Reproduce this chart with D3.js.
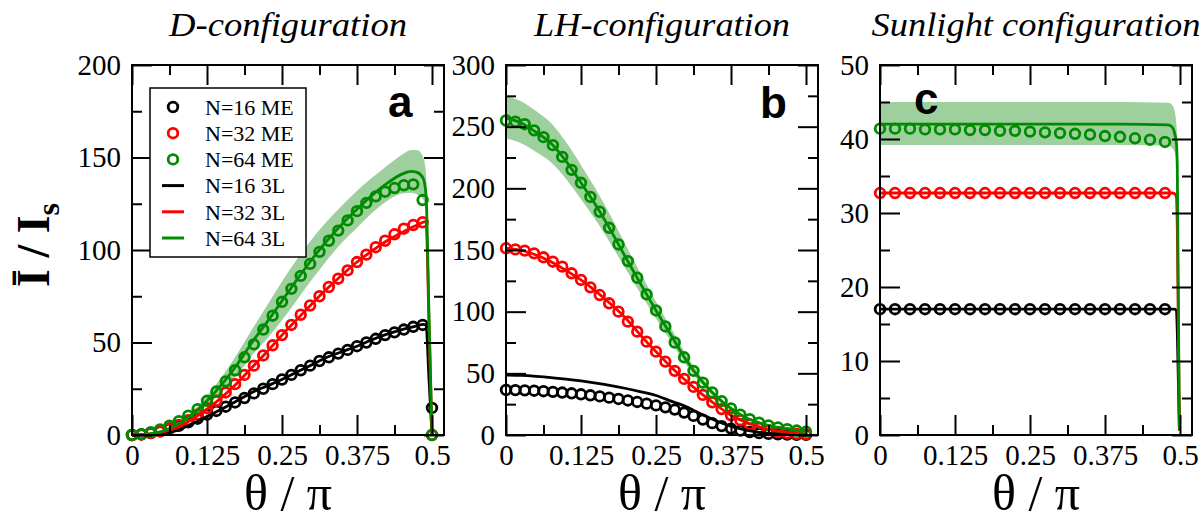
<!DOCTYPE html>
<html>
<head>
<meta charset="utf-8">
<script src="https://cdn.jsdelivr.net/npm/d3@7"></script>
<style>body{margin:0;background:#fff}</style>
</head>
<body>
<script>
// intensity vs angle, three illumination configurations (ME circles, 3L lines, 3L uncertainty band)

var thetaME = [0,0.015625,0.03125,0.046875,0.0625,0.078125,0.09375,0.109375,0.125,0.140625,0.15625,0.171875,0.1875,0.203125,0.21875,0.234375,0.25,0.265625,0.28125,0.296875,0.3125,0.328125,0.34375,0.359375,0.375,0.390625,0.40625,0.421875,0.4375,0.453125,0.46875,0.484375,0.5];

// panel a: D-configuration
var aME16 = [0,0.3,1,2,3.5,5,6.8,8.8,11,13,15.3,17.6,20,22.5,25,27.5,30,32.5,35,37.5,40,42,44,46,48,50,52,54,55.5,57,58.5,59.5,14.6];
var aME32 = [0,0.3,1,2,3.5,5.5,8,11,14.5,18.5,23,27.5,32.5,37.5,43,48.5,54,59.5,65,70,75,80,84.5,89,93.5,97.5,101.5,105,108.5,111.5,113.5,115,0];
var aME64 = [0,0.5,1.5,3,5,7.5,10.5,14,18.5,23.5,29,35,42,49,57,64.5,72,79,86,92.5,99,105,110.5,116,121,125.5,129,131.5,133.5,135,135.5,127,0];
var thetaLineA = [0,0.025,0.05,0.075,0.1,0.125,0.15,0.175,0.2,0.225,0.25,0.275,0.3,0.325,0.35,0.375,0.4,0.425,0.45,0.465,0.475,0.485,0.49,0.495,0.5];
var a3L16 = [0,0.1,0.8,2.5,6,10,14,18.5,23,26.5,30,34,38,42,45,48,51.5,54.5,57,58.2,59,59.8,59.5,30,0];
var a3L32 = [0,0.3,1.5,4,8.5,14,20.5,28,36.5,45,54,62.5,71,79,86.5,93.5,99.5,105,109.5,112,113.5,115,115.5,60,0];
var a3L64 = [0,0.4,2,5.5,11,18.5,27.5,38,50,61,72.5,84,95,105,114,122,129.5,136,141,142.5,142,139,130,65,0];
var aBandUp = [0,0.5,2.3,6.3,12.6,21.2,31.6,43.7,57,70,83,95,106,115.5,124,132,139,145.5,151.5,154,154,150.5,141,70,0];
var aBandLo = [0,0.3,1.7,4.7,9.4,15.8,23.4,32.3,43,52,62,73,84,94.5,104,112,120,126.5,130.5,131,130,127.5,119,60,0];

// panel b: LH-configuration
var bME16 = [36.5,36.4,36.2,35.9,35.5,35,34.4,33.8,33,32.2,31.3,30.3,29.2,28,26.8,25.4,24,22.4,20.6,18.2,15.5,12.5,9.6,7.2,5.2,3.6,2.4,1.5,0.9,0.5,0.3,0.2,0.1];
var bME32 = [151.4,150.5,149.5,147.3,144.1,140.5,136.5,131.1,125.7,119.7,113.5,106.8,100,91.9,83.8,75.7,67.6,59.5,52,45.5,39,32.5,26.5,21,16,12,8.5,5.8,3.8,2.4,1.5,0.9,0.5];
var bME64 = [255,254,252,247,241.5,235,225.5,215,204.5,193,181,168,154.5,141,127.5,114,101,88,75,63,52,42.5,34.5,27.5,21.5,16.5,12.8,10,7.8,6.1,4.7,3.6,2.7];
var thetaLineB = [0,0.025,0.05,0.075,0.1,0.125,0.15,0.175,0.2,0.225,0.25,0.275,0.3,0.325,0.35,0.375,0.4,0.425,0.45,0.475,0.5];
var b3L16 = [48.6,48.3,47.6,46.6,45.3,43.8,42,40,37.7,35,32,27.5,23,17,11.5,7,4,2,0.8,0.3,0.1];
var b3L32 = [151.5,149.8,146,140.5,133.5,125.7,116.5,106,94.5,80.5,67.6,55.2,44,33.8,24.5,16,10.3,6.2,3.5,1.9,0.5];
var b3L64 = [257,253,245.5,236.5,222,204.5,186,165.5,143.5,122,101,81,61,44.5,31.5,21.5,14,9.5,6.4,4.3,2.7];
var bBandUp = [275,270.7,262.7,253,237.5,218.8,199,177.1,153.5,130.5,108,86.7,65.3,47.6,33.7,23,15,10.2,6.8,4.6,2.9];
var bBandLo = [240.3,236.6,229.5,221.1,207.6,191.2,173.9,154.7,134.2,114.1,94.4,75.7,57,41.6,29.5,20.1,13.1,8.9,6,4,2.5];

// panel c: Sunlight configuration
var thetaC = [0,0.025,0.05,0.075,0.1,0.125,0.15,0.175,0.2,0.225,0.25,0.275,0.3,0.325,0.35,0.375,0.4,0.425,0.45,0.475];
var cME16 = [17,17,17,17,17,17,17,17,17,17,17,17,17,17,17,17,17,17,17,17];
var cME32 = [32.7,32.7,32.7,32.7,32.7,32.7,32.7,32.7,32.7,32.7,32.7,32.7,32.7,32.7,32.7,32.7,32.7,32.7,32.7,32.7];
var cME64 = [41.4,41.4,41.4,41.3,41.3,41.3,41.2,41.2,41.1,41.1,41.0,40.9,40.8,40.7,40.6,40.4,40.3,40.1,39.9,39.6];
var thetaLineC = [0,0.1,0.2,0.3,0.4,0.48,0.487,0.491,0.494,0.4955,0.499];
var c3L16 = [17,17,17,17,17,17,17,17,16.8,14,0.6];
var c3L32 = [32.7,32.7,32.7,32.7,32.7,32.7,32.7,32.6,32.2,28,0.6];
var c3L64 = [42,42,42,42,42,41.9,41.6,40.8,39.5,36,0.7];
var cBandUp = [45,45,45,45,45,44.9,44.6,43.8,42,38.5,0.75];
var cBandLo = [39.2,39.2,39.2,39.2,39.2,39.1,38.8,38.2,36.6,33.5,0.65];

var xMajor = [0, 0.125, 0.25, 0.375, 0.5],
    xLabels = ['0', '0.125', '0.25', '0.375', '0.5'],
    xMinor = [0.0625, 0.1875, 0.3125, 0.4375];

var legendNames = ['N=16 ME', 'N=32 ME', 'N=64 ME', 'N=16 3L', 'N=32 3L', 'N=64 3L'];

var colors = ['#000000', '#ff0000', '#008c00'],
    bandColor = '#9dd09d',
    serif = '"Liberation Serif", "Times New Roman", serif',
    sans = '"Liberation Sans", Arial, sans-serif';

var panels = [
  { left: 132, ymax: 200, yMajor: [0,50,100,150,200], yMinor: [25,75,125,175],
    title: 'D-configuration', titleW: 238, letter: 'a', lx: 388, ly: 117,
    me: [aME16, aME32, aME64], meX: thetaME,
    lineX: thetaLineA, lines: [a3L16, a3L32, a3L64], up: aBandUp, lo: aBandLo },
  { left: 506, ymax: 300, yMajor: [0,50,100,150,200,250,300], yMinor: [25,75,125,175,225,275],
    title: 'LH-configuration', titleW: 256, letter: 'b', lx: 760, ly: 118,
    me: [bME16, bME32, bME64], meX: thetaME,
    lineX: thetaLineB, lines: [b3L16, b3L32, b3L64], up: bBandUp, lo: bBandLo },
  { left: 880, ymax: 50, yMajor: [0,10,20,30,40,50], yMinor: [5,15,25,35,45],
    title: 'Sunlight configuration', titleW: 329, letter: 'c', lx: 914, ly: 114,
    me: [cME16, cME32, cME64], meX: thetaC,
    lineX: thetaLineC, lines: [c3L16, c3L32, c3L64], up: cBandUp, lo: cBandLo }
];

var plotTop = 65, plotBottom = 435, plotW = 312;
var markR = 4.8, markW = 2.8;

var svg = d3.select('body').append('svg')
    .attr('width', 1202)
    .attr('height', 521)
    .style('display', 'block');

function styleAxis(sel) {
  sel.select('.domain').remove();
  sel.selectAll('line').attr('stroke', '#000').attr('stroke-width', 2);
  sel.attr('font-family', serif).attr('font-size', 29);
  sel.selectAll('text').attr('fill', '#000');
}

panels.forEach(function(p) {
  var g = svg.append('g');
  var x = d3.scaleLinear().domain([0, 0.52]).range([p.left, p.left + plotW]);
  var y = d3.scaleLinear().domain([0, p.ymax]).range([plotBottom, plotTop]);
  var right = p.left + plotW;

  // uncertainty band of N=64 3L
  var area = d3.area()
      .x((d, i) => x(p.lineX[i]))
      .y0((d, i) => y(p.lo[i]))
      .y1((d, i) => y(p.up[i]))
      .curve(d3.curveMonotoneX);
  g.append('path').datum(p.up).attr('d', area).attr('fill', bandColor).attr('stroke', 'none');

  // ME circles
  p.me.forEach(function(vals, k) {
    g.append('g').selectAll('circle')
      .data(vals)
      .enter().append('circle')
        .attr('cx', (d, i) => x(p.meX[i]))
        .attr('cy', d => y(d))
        .attr('r', markR)
        .attr('fill', 'none')
        .attr('stroke', colors[k])
        .attr('stroke-width', markW);
  });

  // 3L lines
  var line = d3.line()
      .x((d, i) => x(p.lineX[i]))
      .y(d => y(d))
      .curve(d3.curveMonotoneX);
  p.lines.forEach(function(vals, k) {
    g.append('path').datum(vals)
      .attr('d', line)
      .attr('fill', 'none')
      .attr('stroke', colors[k])
      .attr('stroke-width', 2.8);
  });

  // axes: ticks inward on all four sides
  g.append('g').attr('transform', 'translate(0,' + plotBottom + ')')
    .call(d3.axisBottom(x).tickValues(xMajor).tickSize(-20).tickPadding(9).tickFormat((d, i) => xLabels[i]))
    .call(styleAxis);
  g.append('g').attr('transform', 'translate(0,' + plotBottom + ')')
    .call(d3.axisBottom(x).tickValues(xMinor).tickSize(-10).tickFormat(''))
    .call(styleAxis);
  g.append('g').attr('transform', 'translate(0,' + plotTop + ')')
    .call(d3.axisTop(x).tickValues(xMajor).tickSize(-20).tickFormat(''))
    .call(styleAxis);
  g.append('g').attr('transform', 'translate(0,' + plotTop + ')')
    .call(d3.axisTop(x).tickValues(xMinor).tickSize(-10).tickFormat(''))
    .call(styleAxis);
  g.append('g').attr('transform', 'translate(' + p.left + ',0)')
    .call(d3.axisLeft(y).tickValues(p.yMajor).tickSize(-20).tickPadding(11).tickFormat(d3.format('d')))
    .call(styleAxis);
  g.append('g').attr('transform', 'translate(' + p.left + ',0)')
    .call(d3.axisLeft(y).tickValues(p.yMinor).tickSize(-10).tickFormat(''))
    .call(styleAxis);
  g.append('g').attr('transform', 'translate(' + right + ',0)')
    .call(d3.axisRight(y).tickValues(p.yMajor).tickSize(-20).tickFormat(''))
    .call(styleAxis);
  g.append('g').attr('transform', 'translate(' + right + ',0)')
    .call(d3.axisRight(y).tickValues(p.yMinor).tickSize(-10).tickFormat(''))
    .call(styleAxis);

  g.append('rect')
    .attr('x', p.left).attr('y', plotTop)
    .attr('width', plotW).attr('height', plotBottom - plotTop)
    .attr('fill', 'none').attr('stroke', '#000').attr('stroke-width', 2);

  // panel title, letter, x label
  var cx = p.left + plotW / 2;
  g.append('text')
    .attr('x', cx).attr('y', 36)
    .attr('text-anchor', 'middle')
    .attr('font-family', serif).attr('font-style', 'italic').attr('font-size', 34)
    .attr('textLength', p.titleW).attr('lengthAdjust', 'spacingAndGlyphs')
    .text(p.title);
  g.append('text')
    .attr('x', p.lx).attr('y', p.ly)
    .attr('font-family', sans).attr('font-weight', 'bold').attr('font-size', 44)
    .text(p.letter);
  g.append('text')
    .attr('x', cx).attr('y', 510)
    .attr('text-anchor', 'middle')
    .attr('font-family', serif).attr('font-size', 50)
    .text('\u03b8 / \u03c0');
});

// y axis title
var yt = svg.append('text')
    .attr('transform', 'translate(49,245) rotate(-90)')
    .attr('text-anchor', 'middle')
    .attr('font-family', serif).attr('font-weight', 'bold').attr('font-size', 46);
yt.append('tspan').text('\u012a / I');
yt.append('tspan').attr('dy', '0.3em').attr('font-size', 32).text('s');

// legend (panel a)
var leg = svg.append('g');
leg.append('rect')
  .attr('x', 150).attr('y', 88).attr('width', 156).attr('height', 169)
  .attr('fill', '#fff').attr('stroke', '#000').attr('stroke-width', 1.5);
legendNames.forEach(function(name, k) {
  var ly = 107 + k * 26.2;
  if (k < 3) {
    leg.append('circle')
      .attr('cx', 173).attr('cy', ly).attr('r', markR)
      .attr('fill', 'none').attr('stroke', colors[k]).attr('stroke-width', markW);
  } else {
    leg.append('line')
      .attr('x1', 162).attr('x2', 184).attr('y1', ly).attr('y2', ly)
      .attr('stroke', colors[k - 3]).attr('stroke-width', 3);
  }
  leg.append('text')
    .attr('x', 205).attr('y', ly).attr('dy', '0.35em')
    .attr('font-family', serif).attr('font-size', 22)
    .text(name);
});
</script>
</body>
</html>
